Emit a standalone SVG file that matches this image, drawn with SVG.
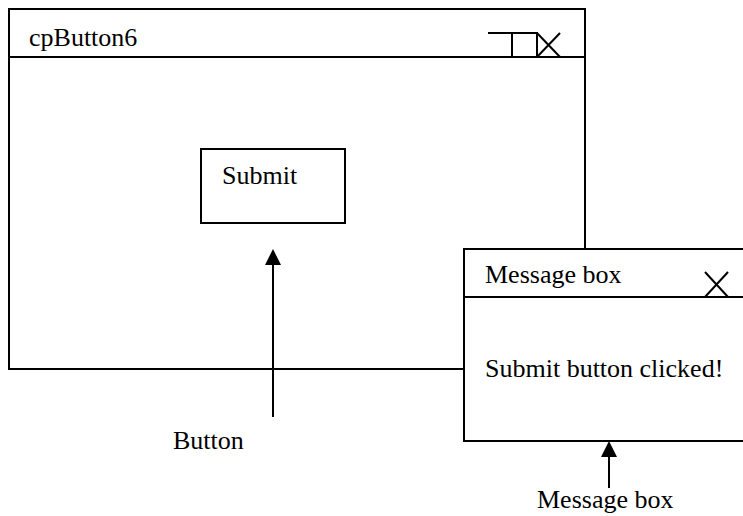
<svg xmlns="http://www.w3.org/2000/svg" width="743" height="516" viewBox="0 0 743 516">
  <style>
    .frame { fill: #fff; stroke: #000; stroke-width: 2; }
    .ln { fill: none; stroke: #000; stroke-width: 2; }
    .txt { font-family: "Liberation Serif", "Times New Roman", serif; font-size: 26px; fill: #000; }
  </style>
  <defs>
    <marker id="arrowhead" markerWidth="16" markerHeight="16" viewBox="0 0 16 16" refX="0" refY="8" orient="auto" markerUnits="userSpaceOnUse">
      <path d="M0,0 L16,8 L0,16 Z" fill="#000"/>
    </marker>
  </defs>

  <!-- Main application window -->
  <g id="window-cpButton6">
    <rect class="frame" x="9" y="9" width="576" height="360"/>
    <line class="ln" x1="9" y1="57" x2="585" y2="57"/>
    <text class="txt" x="29" y="46">cpButton6</text>
    <!-- title bar controls -->
    <line class="ln" x1="488" y1="33" x2="537" y2="33"/>
    <rect class="ln" x="512" y="33" width="25" height="24"/>
    <line class="ln" x1="537" y1="33" x2="560" y2="57"/>
    <line class="ln" x1="537" y1="57" x2="560" y2="33"/>
  </g>

  <!-- Submit button -->
  <g id="button-submit">
    <rect class="frame" x="201" y="149" width="144" height="74"/>
    <text class="txt" x="222" y="184">Submit</text>
  </g>

  <!-- Message box dialog -->
  <g id="message-box">
    <rect class="frame" x="464" y="249" width="290" height="192"/>
    <line class="ln" x1="464" y1="297" x2="743" y2="297"/>
    <text class="txt" x="485" y="283">Message box</text>
    <line class="ln" x1="705" y1="272" x2="728" y2="297"/>
    <line class="ln" x1="705" y1="297" x2="728" y2="272"/>
    <text class="txt" x="485" y="377">Submit button clicked!</text>
  </g>

  <!-- Callout labels -->
  <g id="label-button">
    <text class="txt" x="173" y="449">Button</text>
  </g>
  <g id="label-message-box">
    <text class="txt" x="537" y="508">Message box</text>
  </g>

  <!-- Connectors -->
  <g id="connectors">
    <line class="ln" x1="273" y1="417" x2="273" y2="265" marker-end="url(#arrowhead)"/>
    <line class="ln" x1="609" y1="488" x2="609" y2="457" marker-end="url(#arrowhead)"/>
  </g>
</svg>
